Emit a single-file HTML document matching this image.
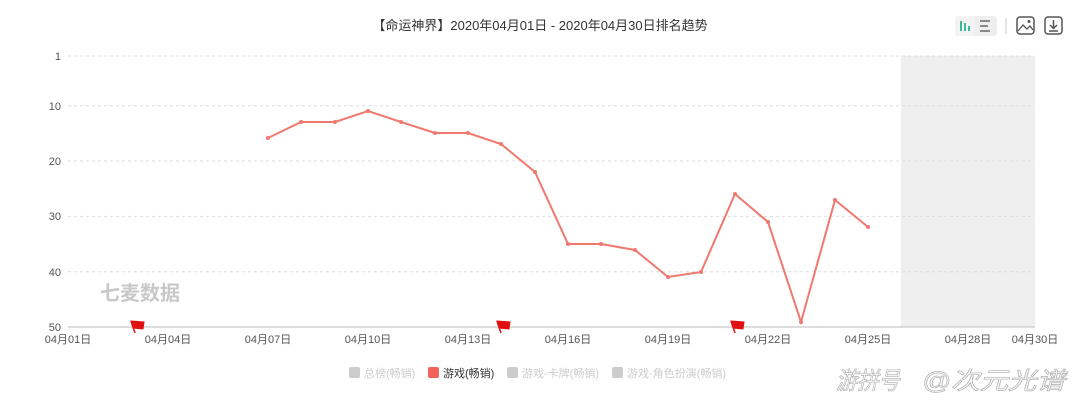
<!DOCTYPE html>
<html><head><meta charset="utf-8"><style>
body{margin:0;background:#fff;font-family:"Liberation Sans","Noto Sans CJK SC",sans-serif;}
</style></head><body>
<svg width="1080" height="400" xmlns="http://www.w3.org/2000/svg" font-family="Liberation Sans, Noto Sans CJK SC, sans-serif">
<rect width="1080" height="400" fill="#fff"/>
<text x="540" y="30" font-size="13" fill="#333" text-anchor="middle">【命运神界】2020年04月01日 - 2020年04月30日排名趋势</text>
<rect x="955" y="16" width="42" height="20" rx="3" fill="#eee"/>
<rect x="955" y="16" width="20" height="20" rx="3" fill="#f3f3f3"/>
<g stroke="#3cb89a" stroke-width="2"><line x1="961" y1="21" x2="961" y2="31"/><line x1="965" y1="23" x2="965" y2="31"/><line x1="969" y1="26" x2="969" y2="31"/></g>
<g stroke="#666" stroke-width="1.5"><line x1="980" y1="21" x2="990" y2="21"/><line x1="980" y1="26" x2="988" y2="26"/><line x1="980" y1="31" x2="990" y2="31"/></g>
<line x1="1006" y1="18" x2="1006" y2="34" stroke="#ccc"/>
<rect x="1017" y="17" width="17" height="17" rx="3" fill="none" stroke="#555" stroke-width="1.5"/>
<path d="M1018 31 L1023 25 L1027 29 L1030 26 L1033 30" fill="none" stroke="#555" stroke-width="1.3"/>
<circle cx="1029" cy="21.5" r="1.5" fill="#555"/>
<rect x="1045" y="17" width="17" height="17" rx="3" fill="none" stroke="#555" stroke-width="1.5"/>
<path d="M1053.5 20 V28 M1050 25 L1053.5 28.5 L1057 25 M1049 31 H1058" fill="none" stroke="#555" stroke-width="1.5"/>
<rect x="901" y="56" width="134" height="271" fill="#efefef"/>
<g stroke="#ddd" stroke-dasharray="3,3">
<line x1="68" y1="56" x2="1035" y2="56"/><line x1="68" y1="105.8" x2="1035" y2="105.8"/>
<line x1="68" y1="161" x2="1035" y2="161"/><line x1="68" y1="216.4" x2="1035" y2="216.4"/>
<line x1="68" y1="271.7" x2="1035" y2="271.7"/></g>
<line x1="68" y1="327" x2="1035" y2="327" stroke="#bbb"/>
<g font-size="11" fill="#555" text-anchor="end">
<text x="61" y="60">1</text><text x="61" y="110">10</text><text x="61" y="165">20</text>
<text x="61" y="220">30</text><text x="61" y="276">40</text><text x="61" y="331">50</text></g>
<g font-size="11" fill="#555" text-anchor="middle">
<text x="68" y="343">04月01日</text><text x="168" y="343">04月04日</text><text x="268" y="343">04月07日</text>
<text x="368" y="343">04月10日</text><text x="468" y="343">04月13日</text><text x="568" y="343">04月16日</text>
<text x="668" y="343">04月19日</text><text x="768" y="343">04月22日</text><text x="868" y="343">04月25日</text>
<text x="968" y="343">04月28日</text><text x="1035" y="343">04月30日</text></g>
<text x="100" y="300" font-size="20" fill="#c8c8c8" font-weight="bold">七麦数据</text>
<polyline fill="none" stroke="#f0786e" stroke-width="2" points="268,138 301,122 335,122 368,111 401,122 435,133 468,133 501,144 535,172 568,244 601,244 635,250 668,277 701,272 735,194 768,222 801,322 835,200 868,227"/>
<g fill="#f0786e">
<circle cx="268" cy="138" r="2"/><circle cx="301" cy="122" r="2"/><circle cx="335" cy="122" r="2"/><circle cx="368" cy="111" r="2"/><circle cx="401" cy="122" r="2"/><circle cx="435" cy="133" r="2"/><circle cx="468" cy="133" r="2"/><circle cx="501" cy="144" r="2"/><circle cx="535" cy="172" r="2"/><circle cx="568" cy="244" r="2"/><circle cx="601" cy="244" r="2"/><circle cx="635" cy="250" r="2"/><circle cx="668" cy="277" r="2"/><circle cx="701" cy="272" r="2"/><circle cx="735" cy="194" r="2"/><circle cx="768" cy="222" r="2"/><circle cx="801" cy="322" r="2"/><circle cx="835" cy="200" r="2"/><circle cx="868" cy="227" r="2"/></g>
<g fill="#e01010" stroke="#e01010">
<path d="M131 321 L144 322 L143 329 L133 328 Z"/><line x1="131" y1="321" x2="135" y2="333" stroke-width="1.5"/>
<path d="M497 321 L510 322 L509 329 L499 328 Z"/><line x1="497" y1="321" x2="501" y2="333" stroke-width="1.5"/>
<path d="M731 321 L744 322 L743 329 L733 328 Z"/><line x1="731" y1="321" x2="735" y2="333" stroke-width="1.5"/></g>
<g font-size="11">
<rect x="349" y="367" width="11" height="11" rx="2" fill="#ccc"/><text x="364" y="377" fill="#ccc">总榜(畅销)</text>
<rect x="428" y="367" width="11" height="11" rx="2" fill="#f0645a"/><text x="443" y="377" fill="#333">游戏(畅销)</text>
<rect x="507" y="367" width="11" height="11" rx="2" fill="#ccc"/><text x="522" y="377" fill="#ccc">游戏-卡牌(畅销)</text>
<rect x="612" y="367" width="11" height="11" rx="2" fill="#ccc"/><text x="627" y="377" fill="#ccc">游戏-角色扮演(畅销)</text></g>
<text x="836" y="389" font-size="24" font-style="italic" fill="#fff" stroke="#b0b0b0" stroke-width="0.7" textLength="64" lengthAdjust="spacingAndGlyphs">游拼号</text>
<text x="922" y="389" font-size="24" font-style="italic" fill="#fff" stroke="#b0b0b0" stroke-width="0.7" textLength="143" lengthAdjust="spacingAndGlyphs">@次元光谱</text>
</svg>
</body></html>
